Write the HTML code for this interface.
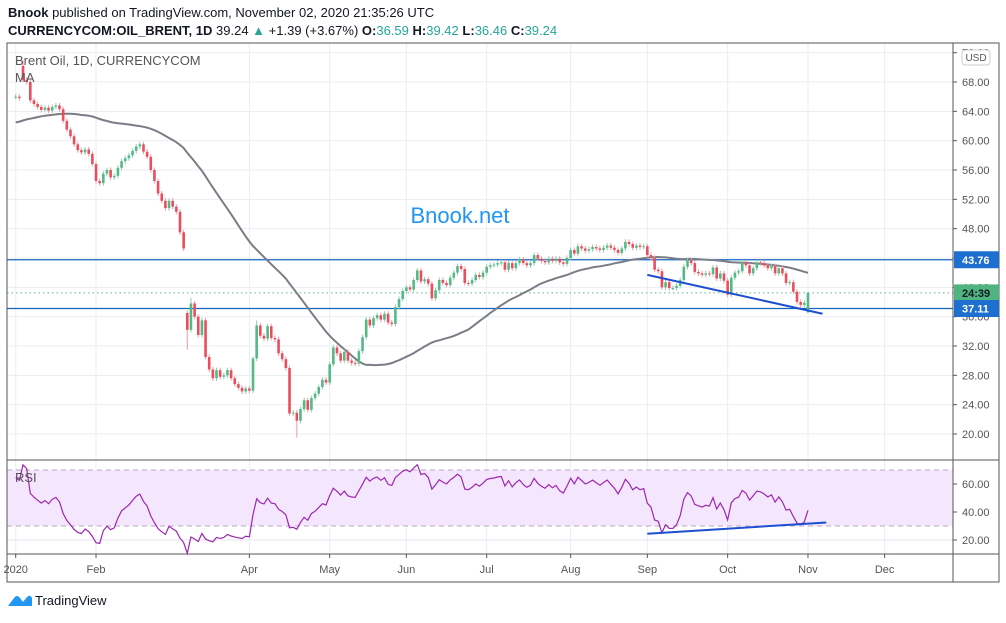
<!DOCTYPE html>
<html><head><meta charset="utf-8"><style>
body{margin:0;background:#fff;}
svg text{font-family:"Liberation Sans",sans-serif;}
</style></head><body>
<svg id="c" width="1006" height="618" viewBox="0 0 1006 618" xmlns="http://www.w3.org/2000/svg">
<rect width="1006" height="618" fill="#fff"/>
<text x="8" y="17" font-size="13" fill="#131722"><tspan font-weight="bold">Bnook</tspan> published on TradingView.com, November 02, 2020 21:35:26 UTC</text>
<text x="8" y="35" font-size="13" fill="#131722"><tspan font-weight="bold">CURRENCYCOM:OIL_BRENT, 1D</tspan> 39.24 <tspan fill="#26a69a">▲</tspan> +1.39 (+3.67%) <tspan font-weight="bold">O:</tspan><tspan fill="#26a69a">36.59</tspan> <tspan font-weight="bold">H:</tspan><tspan fill="#26a69a">39.42</tspan> <tspan font-weight="bold">L:</tspan><tspan fill="#26a69a">36.46</tspan> <tspan font-weight="bold">C:</tspan><tspan fill="#26a69a">39.24</tspan></text>
<g id="grid"></g>
<g id="rsiBg"></g>
<g id="marks"></g>
<g id="frame"></g>
<text x="460" y="223" font-size="22" fill="#2196f3" text-anchor="middle">Bnook.net</text>
<text x="15" y="65" font-size="13" fill="#555">Brent Oil, 1D, CURRENCYCOM</text>
<text x="15" y="82" font-size="13" fill="#555">MA</text>
<text x="15" y="482" font-size="13" fill="#555">RSI</text>
<g>
<path d="M8 606 L14 598 Q17 594 20 598 L23 602 L27 597 Q30 594 32 598 L32 606 Z" fill="#2196f3"/>
<text x="35" y="605" font-size="13" fill="#131722">TradingView</text>
</g>
</svg>
<script>
const history2019=[59.2,60.1,60.7,61.0,60.6,59.5,59.2,58.6,60.7,61.1,61.9,61.3,61.4,61.5,61.2,60.9,61.1,61.3,62.2,61.0,61.4,61.9,62.7,63.3,62.7,62.3,61.8,60.3,59.9,59.6,60.2,61.3,62.1,63.2,63.1,63.0,63.3,63.9,64.2,64.3,65.1,65.3,65.5,65.2,65.3,65.8,66.6,67.2,66.7,66.0];
const closesJan=[66.0,65.8,68.3,68.0,65.5,65.0,64.6,64.2,64.5,64.1,64.6,64.8,64.3,62.7,61.5,60.6,59.5,58.7,58.4,58.8,58.2,56.8];
const closesFeb=[54.5,54.2,55.5,56.0,55.0,55.2,56.3,57.2,57.6,58.0,58.6,59.2,59.5,58.5,57.8,56.0,54.5,52.8,51.8,50.8];
const closesMar=[51.8,51.0,50.3,47.5,45.3,34.2,37.8,36.0,33.5,35.5,30.5,28.8,27.6,28.7,27.8,28.0,28.7,27.6,26.8,26.3,25.8,26.2];
const closesApr=[25.9,30.3,34.8,33.4,33.0,34.7,33.1,32.9,31.0,30.2,29.0,22.8,22.9,21.8,23.4,24.6,23.3,24.9,25.5,26.4,27.4,27.0];
const closesMay=[29.5,31.8,31.0,30.0,31.2,30.0,29.7,29.6,31.3,33.2,35.6,34.8,35.8,36.2,35.6,36.4,35.2,35.0,37.3,38.4,39.5];
const closesJun=[40.0,39.7,41.0,42.3,40.8,41.1,40.5,38.5,39.6,41.0,40.6,40.3,41.3,42.0,42.9,42.5,40.6,40.5,41.0,41.7,41.4,42.0];
const closesJul=[42.8,43.0,43.1,43.3,43.4,42.4,43.3,42.6,43.3,43.8,43.3,43.0,43.3,44.4,43.9,43.6,43.4,43.9,43.6,43.9,43.4,43.2,44.0];
const closesAug=[45.1,44.6,45.6,45.3,45.0,45.2,45.5,45.3,45.1,45.4,45.7,45.4,45.1,44.7,45.3,46.2,45.9,45.4,45.7,45.5,45.6];
const closesSep=[44.4,44.0,42.4,42.2,40.0,40.7,39.9,39.9,40.2,41.0,42.8,43.7,43.3,42.1,41.9,41.7,41.9,41.8,42.7,41.2,41.9,40.9];
const closesOct=[39.0,41.3,42.0,42.2,43.4,43.0,41.9,42.6,43.4,43.3,43.0,42.6,42.9,41.9,42.6,41.9,40.6,40.7,39.4,38.0,37.6,37.9];
const closesNov=[39.24];
const gapOpens={2:70.2,47:36.5,75:29.0,217:36.59};
const extremeHighs={2:71.0,48:38.6,65:30.6,66:35.5,217:39.42};
const extremeLows={47:31.5,77:19.5,217:36.46};
const priceTicks=[20,24,28,32,36,40,44,48,52,56,60,64,68,72];
const rsiTicks=[20,40,60];
const monthLabels=["2020","Feb","Apr","May","Jun","Jul","Aug","Sep","Oct","Nov","Dec"];
const monthBarIndex=[0,22,64,86,107,129,152,173,195,217,238];
const hLevels=[43.76,37.11];
const priceTrend=[[173,41.7],[221,36.4]];
const rsiTrend=[[173,24.5],[222,32.5]];
const lastPrice=39.24;

const closes=[].concat(closesJan,closesFeb,closesMar,closesApr,closesMay,closesJun,closesJul,closesAug,closesSep,closesOct,closesNov);
const L=7,R=953,PT=43,PB=460,RT=460,RB=554,TB=582;
const X=i=>15.7+i*3.651;
const Y=p=>82+(68-p)*7.333;
const RY=v=>540-(v-20)*1.4;
const NS="http://www.w3.org/2000/svg";
function mk(tag,attrs,parent){const e=document.createElementNS(NS,tag);for(const k in attrs)e.setAttribute(k,attrs[k]);parent.appendChild(e);return e;}
const grid=document.getElementById('grid'),marks=document.getElementById('marks'),frame=document.getElementById('frame'),rsiBg=document.getElementById('rsiBg');
priceTicks.forEach(t=>{const y=Y(t);if(y<PT||y>PB)return;
 const l=mk('line',{x1:L,x2:R,y1:y,y2:y,stroke:'#e9eef3'},grid);
 
 
 mk('line',{x1:R,x2:R+4,y1:y,y2:y,stroke:'#555'},frame);
 const tx=mk('text',{x:R+9,y:y+4,'font-size':11,fill:'#555'},frame);tx.textContent=t.toFixed(2);
 
 
});
rsiTicks.forEach(t=>{const y=RY(t);
 const l=mk('line',{x1:L,x2:R,y1:y,y2:y,stroke:'#e3e3ef'},grid);
 
 
 mk('line',{x1:R,x2:R+4,y1:y,y2:y,stroke:'#555'},frame);
 const tx=mk('text',{x:R+9,y:y+4,'font-size':11,fill:'#555'},frame);tx.textContent=t.toFixed(2);
 
 
});
monthLabels.forEach((m,k)=>{const x=X(monthBarIndex[k]);
 const l=mk('line',{x1:x,x2:x,y1:PT,y2:RB,stroke:'#e9eef3'},grid);
 
 
 mk('line',{x1:x,x2:x,y1:RB,y2:RB+4,stroke:'#555'},frame);
 const tx=mk('text',{x:x,y:573,'font-size':11,fill:'#555','text-anchor':'middle'},frame);tx.textContent=m;
 
 
});
const band=mk('rect',{x:L,y:RY(70),width:R-L,height:RY(30)-RY(70),fill:'#f4e6fc'},rsiBg);


[70,30].forEach(v=>{mk('line',{x1:L,x2:R,y1:RY(v),y2:RY(v),stroke:'#b8a8bf','stroke-dasharray':'5,4'},rsiBg);});
hLevels.forEach(p=>{const l=mk('line',{x1:L,x2:R,y1:Y(p),y2:Y(p),stroke:'#1565c0','stroke-width':1.2},marks);
 
 });
const dl=mk('line',{x1:L,x2:R,y1:Y(lastPrice),y2:Y(lastPrice),stroke:'#53b987','stroke-dasharray':'1.5,3'},marks);


const all=history2019.concat(closes);const H=history2019.length;
let ma=[];for(let i=0;i<closes.length;i++){let s=0;for(let j=0;j<50;j++)s+=all[H+i-j];ma.push(s/50);}
const maP=mk('path',{d:ma.map((v,i)=>(i?'L':'M')+X(i).toFixed(1)+' '+Y(v).toFixed(1)).join(''),fill:'none',stroke:'#7b7d86','stroke-width':2},marks);


closes.forEach((c,i)=>{
 const o=(i in gapOpens)?gapOpens[i]:(i?closes[i-1]:history2019[H-1]);
 const hi=(i in extremeHighs)?extremeHighs[i]:Math.max(o,c)+0.35;
 const lo=(i in extremeLows)?extremeLows[i]:Math.min(o,c)-0.35;
 const up=c>=o,col=up?'#53b987':'#eb4d5c';const x=X(i);
 const g=mk('g',{},marks);
 
 
 mk('line',{x1:x,x2:x,y1:Y(hi),y2:Y(lo),stroke:up?'#8fcfb0':'#f39aa3','stroke-width':1},g);
 const y1=Y(Math.max(o,c)),y2=Y(Math.min(o,c));
 mk('rect',{x:x-1.3,y:y1,width:2.6,height:Math.max(1,y2-y1),fill:col},g);
});
let ag=0,al=0,rsi=[];
for(let k=1;k<all.length;k++){const d=all[k]-all[k-1];const gn=Math.max(d,0),ls=Math.max(-d,0);
 if(k<=14){ag+=gn/14;al+=ls/14;}else{ag=(ag*13+gn)/14;al=(al*13+ls)/14;}
 if(k>=H)rsi.push(al===0?100:100-100/(1+ag/al));}
const rP=mk('path',{d:rsi.map((v,i)=>(i?'L':'M')+X(i).toFixed(1)+' '+RY(v).toFixed(1)).join(''),fill:'none',stroke:'#9c27b0','stroke-width':1.2},marks);


const t1=mk('line',{x1:X(priceTrend[0][0]),y1:Y(priceTrend[0][1]),x2:X(priceTrend[1][0]),y2:Y(priceTrend[1][1]),stroke:'#1e4fd0','stroke-width':2},marks);


const t2=mk('line',{x1:X(rsiTrend[0][0]),y1:RY(rsiTrend[0][1]),x2:X(rsiTrend[1][0]),y2:RY(rsiTrend[1][1]),stroke:'#1e4fd0','stroke-width':2},marks);


mk('rect',{x:L,y:PT,width:999-L,height:TB-PT,fill:'none',stroke:'#555'},frame);
mk('line',{x1:R,x2:R,y1:PT,y2:TB,stroke:'#555'},frame);
mk('line',{x1:L,x2:999,y1:RT,y2:RT,stroke:'#555'},frame);
mk('line',{x1:L,x2:999,y1:RB,y2:RB,stroke:'#555'},frame);
const ub=mk('rect',{x:962,y:50,width:28,height:15,rx:3,fill:'#fff',stroke:'#ccc'},frame);


const ut=mk('text',{x:976,y:61,'font-size':10,fill:'#555','text-anchor':'middle'},frame);ut.textContent='USD';
function tag(p,txt,col,name){const y=Y(p);
 const r=mk('rect',{x:R+1,y:y-8.5,width:45,height:17,fill:col},frame);
 
 
 const t=mk('text',{x:R+9,y:y+4,'font-size':11,'font-weight':'bold',fill:col==='#4fb47f'?'#131722':'#fff'},frame);t.textContent=txt;}
tag(hLevels[0],hLevels[0].toFixed(2),'#1e6fd0','level-tag-upper');
tag(lastPrice,'24:39','#4fb47f','countdown-tag');
tag(hLevels[1],hLevels[1].toFixed(2),'#1e6fd0','level-tag-lower');
</script>
</body></html>
